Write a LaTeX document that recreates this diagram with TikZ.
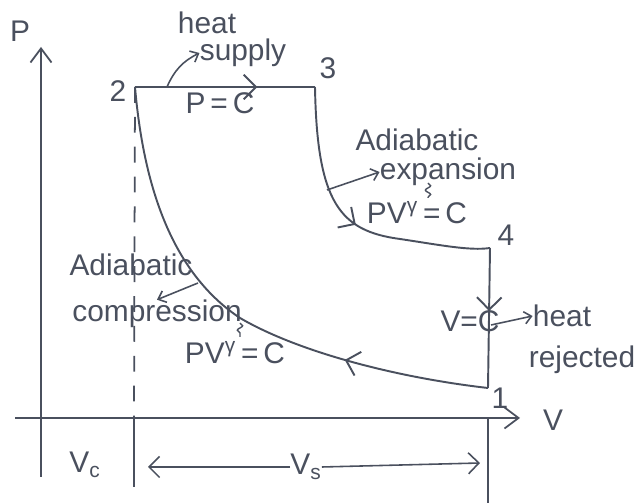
\documentclass[tikz,border=0pt]{standalone}
\usepackage{fontspec}
\setmainfont{Liberation Sans}
\usetikzlibrary{arrows.meta,decorations.markings,decorations.pathmorphing}
\definecolor{Ink}{HTML}{4A505E}
\tikzset{
 process/.style={draw=Ink, line width=1.1pt},
 axisline/.style={draw=Ink, line width=1pt},
 flowmark/.style={postaction={decorate}, decoration={markings, mark=at position #1 with {\arrow{Straight Barb[length=7pt,width=14pt,line width=1.1pt]}}}},
 tagarrow/.style={-{Straight Barb[length=4pt,width=7pt]}, draw=Ink, line width=0.9pt},
 note/.style={text=Ink, font=\fontsize{17}{19}\selectfont, inner sep=0pt},
 squiggle/.style={draw=Ink, line width=0.8pt, decorate, decoration={snake, amplitude=1.5pt, segment length=5pt}}
}

\begin{document}
\begin{tikzpicture}[x=0.02cm,y=0.02cm]
\useasboundingbox (0,0) rectangle (636,503);
% state points
\coordinate (p1) at (488,115);
\coordinate (p2) at (135,416);
\coordinate (p3) at (315,416);
\coordinate (p4) at (490,255);
% axes
\coordinate (pbot) at (41,26);
\coordinate (ptop) at (41,456);
\coordinate (vleft) at (15,85);
\coordinate (vright) at (520,85);
\draw[axisline, -{Straight Barb[length=8pt,width=12pt,line width=1pt]}] (pbot) -- (ptop);
\draw[axisline, -{Straight Barb[length=8pt,width=12pt,line width=1pt]}] (vleft) -- (vright);
\node[note] (lblP) at (20,472) {P};
\node[note] (lblV) at (553,83) {V};
% clearance and swept volume lines
\coordinate (d2ax) at (134,85);
\coordinate (d2bot) at (134,16);
\coordinate (d1ax) at (488,85);
\coordinate (d1bot) at (488,0);
\draw[axisline, dash pattern=on 9pt off 8pt] (p2) -- (d2ax);
\draw[axisline] (d2ax) -- (d2bot);
\draw[axisline] (d1ax) -- (d1bot);
% cycle
\draw[process, flowmark=0.68] (p2) -- (p3);
\draw[process, flowmark=0.52] (p3) .. controls (317,300) and (340,272) .. (400,264) .. controls (440,258) and (470,252) .. (p4);
\draw[process, flowmark=0.45] (p4) -- (p1);
\draw[process, flowmark=0.28] (p1) .. controls (400,125) and (300,150) .. (240,185) .. controls (180,225) and (145,300) .. (p2);
% point numbers
\node[note] (n1) at (500,105) {1};
\node[note] (n2) at (118,412) {2};
\node[note] (n3) at (328,435) {3};
\node[note] (n4) at (506,268) {4};
% heat supply
\node[note] (heat1) at (207,480) {heat};
\node[note] (supply) at (243,450) {supply};
\node[note] (pc) at (220,400) {P\,=\,C};
\coordinate (hs) at (167,416);
\draw[tagarrow] (hs) to[bend left=20] (supply.west);
% expansion
\node[note] (adia1) at (417,363) {Adiabatic};
\node[note] (expn) at (448,331) {expansion};
\node[note] (pvexp) at (417,290) {PV\textsuperscript{γ}\,=\,C};
\coordinate (ex) at (327,313);
\draw[tagarrow] (ex) -- (expn.west);
\coordinate (exs) at (428,320);
\coordinate (exg) at (428,305);
\draw[squiggle] (exs) -- (exg);
% compression
\node[note] (adia2) at (131,238) {Adiabatic};
\node[note] (comp) at (157,189) {compression};
\node[note] (pvcomp) at (235,150) {PV\textsuperscript{γ}\,=\,C};
\coordinate (cx) at (198,220);
\draw[tagarrow] (cx) -- (comp.north);
\coordinate (cs) at (240,180);
\coordinate (cg) at (240,166);
\draw[squiggle] (cs) -- (cg);
% heat rejection
\node[note] (vc) at (470,182) {V=C};
\node[note] (heat2) at (562,187) {heat};
\node[note] (rej) at (582,143) {rejected};
\coordinate (hr) at (491,178);
\draw[tagarrow] (hr) -- (heat2.west);
% volumes
\node[note] (vcl) at (85,38) {V\textsubscript{c}};
\node[note] (vsw) at (306,36) {V\textsubscript{s}};
\coordinate (vsL) at (148,36);
\coordinate (vsR) at (480,40);
\draw[tagarrow, -{Straight Barb[length=6pt,width=12pt]}] (vsw.west) -- (vsL);
\draw[tagarrow, -{Straight Barb[length=6pt,width=12pt]}] (vsw.east) -- (vsR);
\end{tikzpicture}
\end{document}
